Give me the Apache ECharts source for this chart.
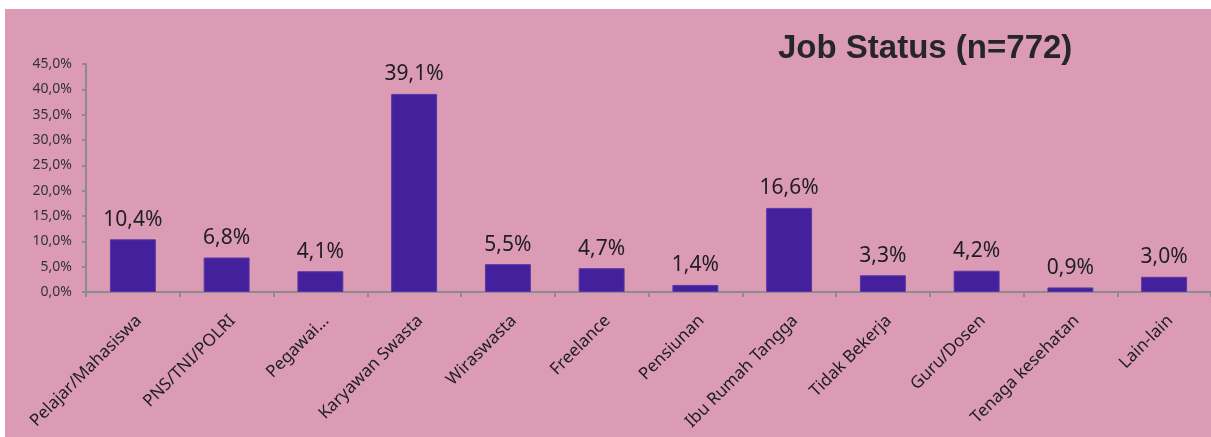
<!DOCTYPE html>
<html>
<head>
<meta charset="utf-8">
<script src="https://cdn.jsdelivr.net/npm/echarts@6/dist/echarts.min.js"></script>
<style>
  html, body { margin:0; padding:0; background:#ffffff; width:1211px; height:437px; overflow:hidden; }
  #frame { position:absolute; left:5px; top:9px; width:1206px; height:428px; background:#DB9BB4; }
  #chart { width:1206px; height:428px; }
</style>
</head>
<body>
<div id="frame"><div id="chart"></div></div>
<script>
const categories = ["Pelajar/Mahasiswa","PNS/TNI/POLRI","Pegawai...","Karyawan Swasta","Wiraswasta","Freelance","Pensiunan","Ibu Rumah Tangga","Tidak Bekerja","Guru/Dosen","Tenaga kesehatan","Lain-lain"];
const values = [10.4, 6.8, 4.1, 39.1, 5.5, 4.7, 1.4, 16.6, 3.3, 4.2, 0.9, 3.0];
const titleText = "Job Status (n=772)";
const yMin = 0, yMax = 45, yStep = 5;

const fmt = v => v.toFixed(1).replace('.', ',') + '%';
const chart = echarts.init(document.getElementById('chart'), null, {renderer:'canvas'});
chart.setOption({
  backgroundColor: 'transparent',
  animation: false,
  title: {
    text: titleText,
    left: 768, top: 18,
    textStyle: { fontFamily: 'Liberation Sans, Arial', fontWeight: 'bold', fontSize: 33, color: '#262626' }
  },
  grid: { left: 81, right: 0, top: 55, bottom: 145, containLabel: false },
  xAxis: {
    type: 'category',
    data: categories,
    axisLine: { lineStyle: { color: '#8c8c8c', width: 2 } },
    axisTick: { show: true, alignWithLabel: false, length: 5, lineStyle: { color: '#8c8c8c', width: 2 } },
    axisLabel: { rotate: 45, interval: 0, margin: 20, align: 'right', verticalAlign: 'top', fontFamily: 'Noto Sans', fontSize: 17, color: '#1e1e1e' }
  },
  yAxis: {
    type: 'value',
    min: yMin, max: yMax, interval: yStep,
    splitLine: { show: false },
    axisLine: { show: true, lineStyle: { color: '#8c8c8c', width: 2 } },
    axisTick: { show: true, length: 4, lineStyle: { color: '#8c8c8c', width: 2 } },
    axisLabel: { formatter: fmt, margin: 14, fontFamily: 'Noto Sans', fontSize: 14, color: '#333333' }
  },
  series: [{
    type: 'bar',
    data: values,
    barWidth: '49%',
    itemStyle: { color: '#45209C', borderColor: '#5a36a8', borderWidth: 1 },
    label: { show: true, position: 'top', distance: 9, formatter: p => fmt(p.value), fontFamily: 'Noto Sans', fontSize: 21, color: '#1e1e1e' }
  }]
});
</script>
</body>
</html>
